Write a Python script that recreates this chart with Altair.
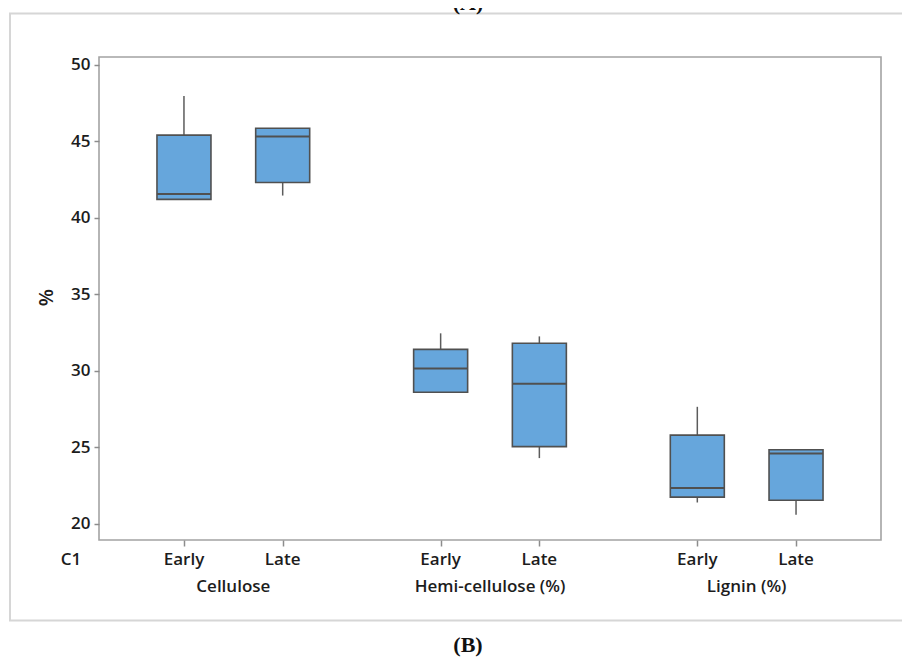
import altair as alt
import pandas as pd

# ---- data (five-number summaries) ----
groups = ["Cellulose", "Hemi-cellulose (%)", "Lignin (%)"]
periods = ["Early", "Late"]
mins = [41.2, 41.45, 28.6, 24.3, 21.4, 20.6]
q1s = [41.2, 42.3, 28.6, 25.05, 21.75, 21.55]
meds = [41.55, 45.3, 30.15, 29.15, 22.35, 24.6]
q3s = [45.4, 45.85, 31.4, 31.8, 25.8, 24.85]
maxs = [47.95, 45.85, 32.45, 32.25, 27.65, 24.85]
y_ticks = [20, 25, 30, 35, 40, 45, 50]

rows = []
for gi, g in enumerate(groups):
    for pi, p in enumerate(periods):
        k = gi * len(periods) + pi
        rows.append(dict(group=g, period=p, pos=1 + gi * 2.6 + pi,
                         lo=mins[k], q1=q1s[k], med=meds[k], q3=q3s[k], hi=maxs[k]))
df = pd.DataFrame(rows)
gdf = df.groupby("group", as_index=False)["pos"].mean()

FONT = "Open Sans"
FS = 17
TXT = "#1c1c1c"
FILL = "#66a6dc"
EDGE = "#505050"
GRAYTICK = "#8c8c8c"

xscale = alt.Scale(domain=[0.19, 8.01], nice=False, zero=False)
yscale = alt.Scale(domain=[18.95, 50.5], nice=False, zero=False)

xaxis = alt.Axis(values=df["pos"].tolist(), labels=False, ticks=True, tickSize=6,
                 tickColor=GRAYTICK, tickWidth=1.5, domain=False, grid=False, title=None)
yaxis = alt.Axis(values=y_ticks, title="%", titleFont=FONT, titleFontSize=20,
                 titleFontWeight=600, titleColor=TXT, titleAngle=-90,
                 titleX=-53, titleY=240, titleAlign="center", titleBaseline="middle",
                 labelFont=FONT, labelFontSize=FS, labelFontWeight=600, labelColor=TXT,
                 labelPadding=4, tickSize=5, tickColor=GRAYTICK, tickWidth=1.5,
                 domain=False, grid=False)

X = alt.X("pos:Q", scale=xscale, axis=xaxis)


def Y(f):
    return alt.Y(f, scale=yscale, axis=yaxis)


base = alt.Chart(df)

whisk_lo = base.mark_rule(color="#5c5c5c", strokeWidth=1.5).encode(x=X, y=Y("lo:Q"), y2="q1:Q")
whisk_hi = base.mark_rule(color="#5c5c5c", strokeWidth=1.5).encode(x=X, y=Y("q3:Q"), y2="hi:Q")
box = base.mark_bar(size=54, fill=FILL, stroke=EDGE, strokeWidth=1.6).encode(
    x=X, y=Y("q1:Q"), y2="q3:Q")
median = base.mark_tick(orient="horizontal", size=54, thickness=2, color=EDGE, opacity=1).encode(
    x=X, y=Y("med:Q"))

plabels = base.mark_text(font=FONT, fontSize=FS, fontWeight=600, color=TXT,
                         baseline="middle", align="center").encode(
    x=X, y=alt.value(503), text="period:N")
glabels = alt.Chart(gdf).mark_text(font=FONT, fontSize=FS, fontWeight=600, color=TXT,
                                   baseline="middle", align="center").encode(
    x=X, y=alt.value(530), text="group:N")

one = pd.DataFrame({"t": ["C1"]})
c1 = alt.Chart(one).mark_text(font=FONT, fontSize=FS, fontWeight=600, color=TXT,
                              baseline="middle", align="center").encode(
    x=alt.value(-28), y=alt.value(503), text="t:N")

capB = alt.Chart(pd.DataFrame({"t": ["(B)"]})).mark_text(
    font="Liberation Serif", fontSize=22, fontWeight="bold", color="#111111",
    baseline="middle", align="center").encode(x=alt.value(369), y=alt.value(588), text="t:N")
capA = alt.Chart(pd.DataFrame({"t": ["(A)"]})).mark_text(
    font="Liberation Serif", fontSize=22, fontWeight="bold", color="#111111",
    baseline="alphabetic", align="center").encode(x=alt.value(369), y=alt.value(-47), text="t:N")

outer = alt.Chart(pd.DataFrame({"t": [""]})).mark_rect(
    fill=None, stroke="#d6d6d6", strokeWidth=2).encode(
    x=alt.value(-89), x2=alt.value(900), y=alt.value(-43.5), y2=alt.value(563.5))

chart = alt.layer(outer, whisk_lo, whisk_hi, box, median, plabels, glabels, c1, capB, capA).properties(
    width=782, height=483,
    autosize=alt.AutoSizeParams(type="none"),
    padding={"left": 91, "top": 49, "right": 21, "bottom": 118},
    background="white",
).configure_view(stroke="#a3a3a3", strokeWidth=1.6)

chart.save("out.html", embed_options={"renderer": "svg", "actions": False})
